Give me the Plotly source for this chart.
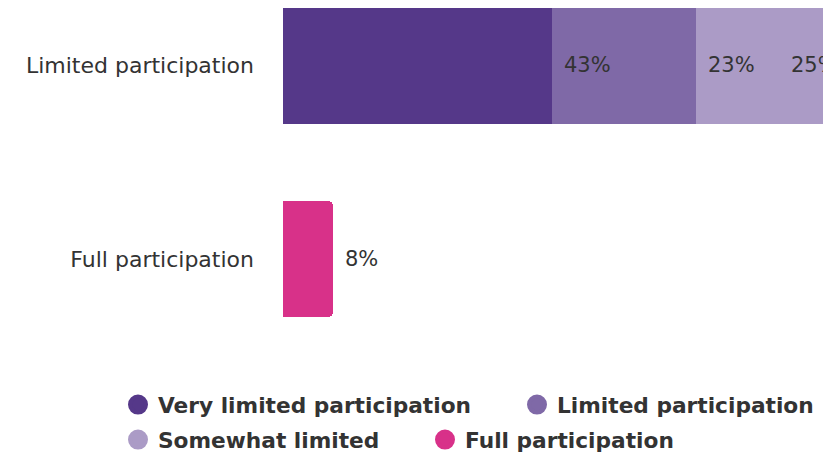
import plotly.graph_objects as go

# participation split, in percent
categories = ["Full participation", "Limited participation"]
seg_names = ["Very limited participation", "Limited participation", "Somewhat limited"]
seg_values = [43, 23, 25]          # stacked on "Limited participation"
full_value = 8                     # "Full participation"

PURPLE_DARK = "#553889"
PURPLE_MID = "#7f69a7"
PURPLE_LIGHT = "#ab9bc6"
PINK = "#d83189"
TEXT = "#333333"
FONT = "DejaVu Sans"

X_MAX = 88.96   # chart is cropped on the right

fig = go.Figure()
for name, val, col in zip(seg_names, seg_values, [PURPLE_DARK, PURPLE_MID, PURPLE_LIGHT]):
    fig.add_trace(go.Bar(y=[categories[1]], x=[val], orientation="h", name=name,
                         marker=dict(color=col, line=dict(width=0)),
                         width=0.6, showlegend=False, hoverinfo="skip"))
fig.add_trace(go.Bar(y=[categories[0]], x=[full_value], orientation="h",
                     name="Full participation",
                     marker=dict(color=PINK, line=dict(width=0)),
                     width=0.6, showlegend=False, hoverinfo="skip"))

# legend entries with round markers, one legend box per entry (two rows)
legend_items = [("legend", seg_names[0], PURPLE_DARK), ("legend2", seg_names[1], PURPLE_MID),
                ("legend3", seg_names[2], PURPLE_LIGHT), ("legend4", "Full participation", PINK)]
for lg, name, col in legend_items:
    fig.add_trace(go.Scatter(x=[None], y=[None], mode="markers", name=name, legend=lg,
                             marker=dict(symbol="circle", size=16, color=col,
                                         line=dict(color=col, width=4))))

# value labels just past each segment end
ann = []
cum = 0
for val in seg_values:
    cum += val
    if cum <= X_MAX - 8:
        ann.append(dict(x=cum, y=categories[1], text=f"{val}%", xanchor="left", xshift=10,
                        showarrow=False))
    else:
        ann.append(dict(x=X_MAX, y=categories[1], text=f"{val}%", xanchor="right", xshift=1,
                        showarrow=False))
ann.append(dict(x=full_value, y=categories[0], text=f"{full_value}%", xanchor="left",
                xshift=10, showarrow=False))
for a in ann:
    a.update(font=dict(family=FONT, size=21, color=TEXT))

legend_style = dict(orientation="h", xref="container", yref="container", xanchor="left",
                    yanchor="middle", font=dict(family=FONT, size=21.7, color=TEXT, weight="bold"),
                    bgcolor="rgba(0,0,0,0)", itemclick=False, traceorder="normal")
row1, row2 = 1 - 397 / 458, 1 - 432 / 458

fig.update_layout(
    width=831, height=458,
    barmode="stack", barcornerradius=5,
    plot_bgcolor="white", paper_bgcolor="white",
    margin=dict(l=275, r=0, t=0, b=98),
    font=dict(family=FONT, size=21, color=TEXT),
    xaxis=dict(range=[0, X_MAX], visible=False, fixedrange=True),
    yaxis=dict(categoryorder="array", categoryarray=categories, range=[-0.5635, 1.297],
               showgrid=False, zeroline=False, showline=False, ticks="",
               ticklabelstandoff=28, tickfont=dict(family=FONT, size=22, color=TEXT)),
    annotations=ann,
    legend=dict(x=110 / 831, y=row1, **legend_style),
    legend2=dict(x=509 / 831, y=row1, **legend_style),
    legend3=dict(x=110 / 831, y=row2, **legend_style),
    legend4=dict(x=417 / 831, y=row2, **legend_style),
)

fig.write_html("out.html")
